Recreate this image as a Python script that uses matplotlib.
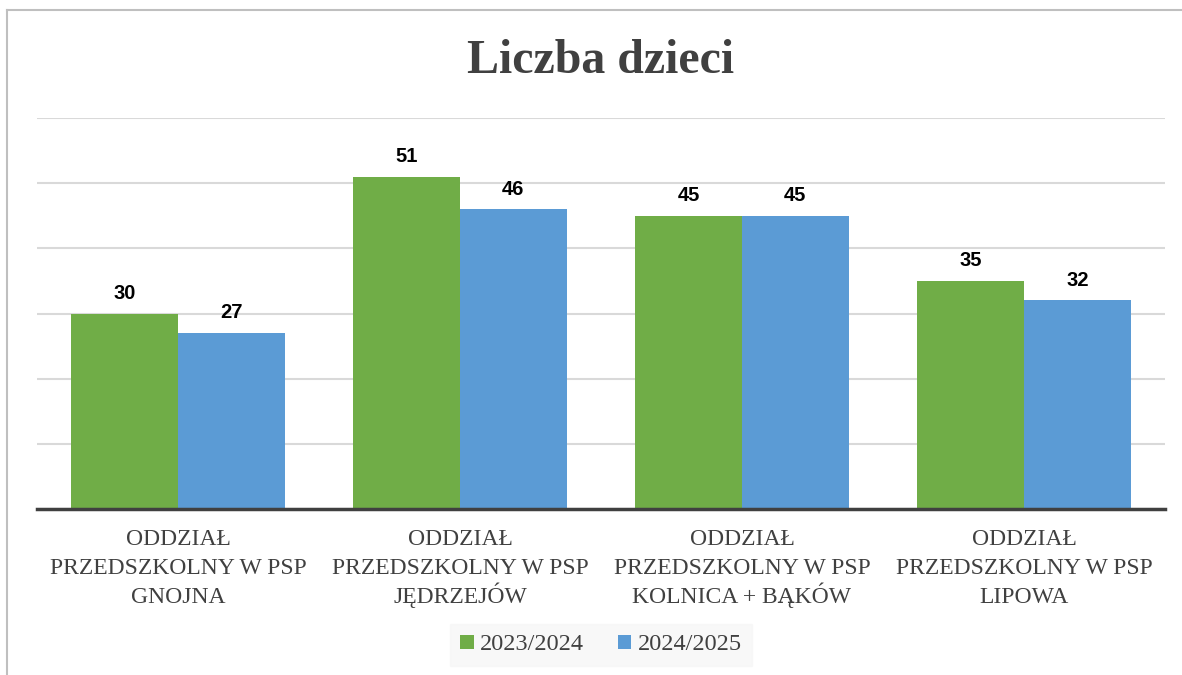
import matplotlib.pyplot as plt
import numpy as np

categories = ["ODDZIAŁ\nPRZEDSZKOLNY W PSP\nGNOJNA",
              "ODDZIAŁ\nPRZEDSZKOLNY W PSP\nJĘDRZEJÓW",
              "ODDZIAŁ\nPRZEDSZKOLNY W PSP\nKOLNICA + BĄKÓW",
              "ODDZIAŁ\nPRZEDSZKOLNY W PSP\nLIPOWA"]
series_names = ["2023/2024", "2024/2025"]
values_2023 = [30, 51, 45, 35]
values_2024 = [27, 46, 45, 32]
colors = ["#70AD47", "#5B9BD5"]

W, H = 1182, 675
fig = plt.figure(figsize=(W / 100, H / 100), dpi=100)
fig.patch.set_facecolor("white")

# outer border
fig.add_artist(plt.Line2D([7 / W, 7 / W], [0, 1 - 10 / H], transform=fig.transFigure, color="#BFBFBF", lw=1.5))
fig.add_artist(plt.Line2D([7 / W, 1], [1 - 10 / H, 1 - 10 / H], transform=fig.transFigure, color="#BFBFBF", lw=1.5))

ax_l, ax_r, ax_t, ax_b = 37, 1165, 118, 509
ax = fig.add_axes([ax_l / W, 1 - ax_b / H, (ax_r - ax_l) / W, (ax_b - ax_t) / H])

x = np.arange(len(categories))
bw = 0.378
b1 = ax.bar(x - bw / 2, values_2023, bw, color=colors[0], label=series_names[0], zorder=3)
b2 = ax.bar(x + bw / 2, values_2024, bw, color=colors[1], label=series_names[1], zorder=3)

for bars in (b1, b2):
    for rect in bars:
        v = rect.get_height()
        ax.annotate(f"{v:g}", (rect.get_x() + rect.get_width() / 2, v),
                    xytext=(0, 14.5), textcoords="offset points", ha="center", va="center",
                    fontsize=14.5, fontweight="bold", family="Liberation Sans", color="black", zorder=4)

ax.set_xlim(-0.5, len(categories) - 0.5)
ax.set_ylim(0, 60)
ax.set_yticks(np.arange(0, 61, 10))
ax.yaxis.grid(True, color="#D9D9D9", lw=1.5, zorder=0)
ax.tick_params(axis="y", left=False, labelleft=False)
ax.tick_params(axis="x", bottom=False, labelbottom=False)
ax.set_xticks(x)
for s in ("top", "right", "left"):
    ax.spines[s].set_visible(False)
ax.spines["bottom"].set_color("#404040")
ax.spines["bottom"].set_linewidth(2.5)
ax.spines["bottom"].set_zorder(5)

# category labels, one line at a time for even spacing
baseline_offsets = [36, 65, 94]
for i, label in enumerate(categories):
    for j, line in enumerate(label.split("\n")):
        ax.annotate(line, (x[i], 0), xycoords=("data", "axes fraction"),
                    xytext=(0, -baseline_offsets[j]), textcoords="offset pixels",
                    ha="center", va="baseline", family="Liberation Serif", fontsize=17,
                    color="#404040", annotation_clip=False)

fig.text(601 / W, 1 - 61 / H, "Liczba dzieci", ha="center", va="center",
         family="Liberation Serif", fontweight="bold", fontsize=34.5, color="#404040")

# legend
leg = fig.legend(handles=[b1, b2], labels=series_names, loc="center",
                 bbox_to_anchor=(601 / W, 1 - 645 / H), ncol=2, frameon=True,
                 prop={"family": "Liberation Serif", "size": 17.5}, handlelength=0.55, handleheight=0.55,
                 handletextpad=0.25, columnspacing=1.4, borderpad=0.45, fancybox=False)
leg.get_frame().set_facecolor("#F7F7F7")
leg.get_frame().set_edgecolor("#F7F7F7")
for t in leg.get_texts():
    t.set_color("#404040")

fig.savefig("out.png", dpi=100)
